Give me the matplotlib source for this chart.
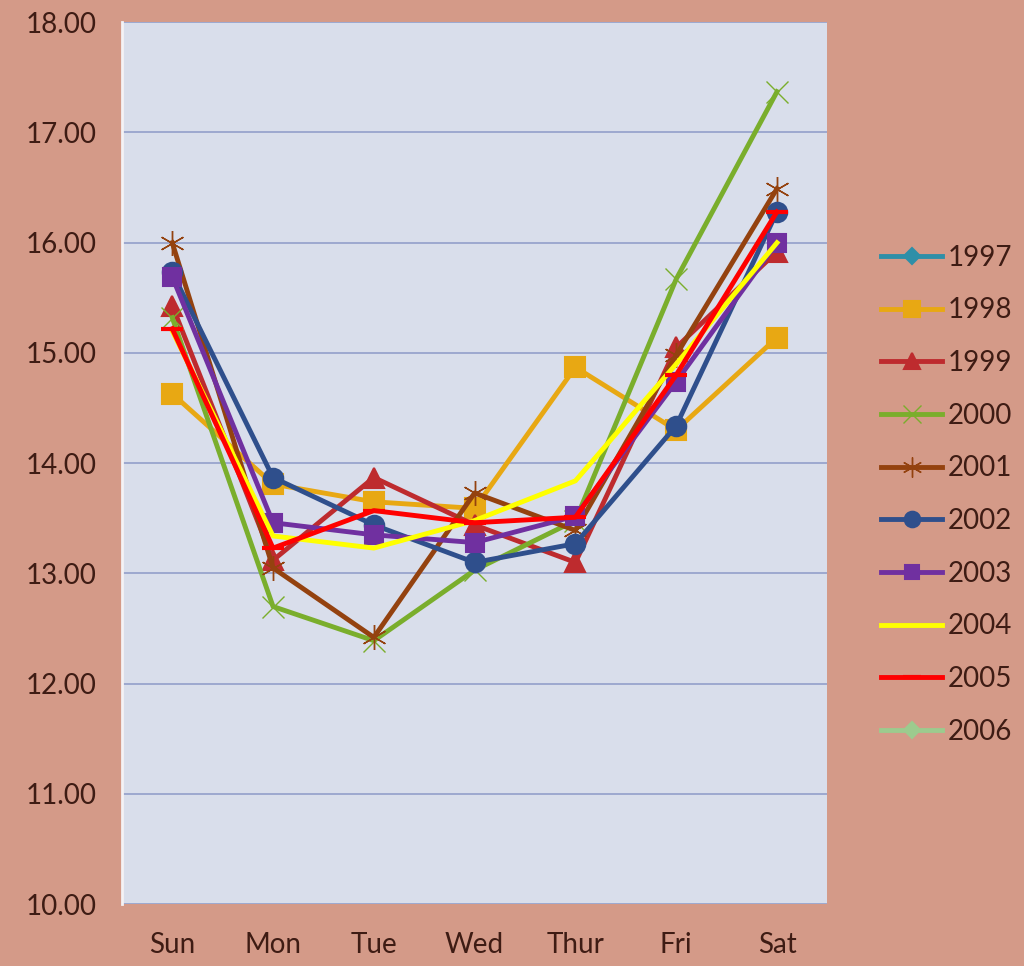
import numpy as np
import matplotlib.pyplot as plt

plt.rcParams['font.family'] = ['Lato', 'DejaVu Sans']

days = ['Sun', 'Mon', 'Tue', 'Wed', 'Thur', 'Fri', 'Sat']
years = ['1997', '1998', '1999', '2000', '2001', '2002', '2003', '2004', '2005', '2006']

nan = np.nan
v1997 = [nan, nan, nan, nan, nan, nan, nan]
v1998 = [14.63, 13.81, 13.65, 13.59, 14.87, 14.30, 15.14]
v1999 = [15.43, 13.12, 13.87, 13.44, 13.10, 15.05, 15.92]
v2000 = [15.32, 12.70, 12.39, 13.03, 13.48, 15.67, 17.37]
v2001 = [16.00, 13.05, 12.42, 13.73, 13.39, 14.98, 16.49]
v2002 = [15.73, 13.87, 13.44, 13.10, 13.27, 14.34, 16.28]
v2003 = [15.69, 13.46, 13.35, 13.28, 13.52, 14.74, 16.00]
v2004 = [15.20, 13.34, 13.23, 13.48, 13.84, 14.90, 16.00]
v2005 = [15.22, 13.23, 13.57, 13.46, 13.51, 14.80, 16.28]
v2006 = [nan, nan, nan, nan, nan, nan, nan]

series = [v1997, v1998, v1999, v2000, v2001, v2002, v2003, v2004, v2005, v2006]
colors = ['#2E8FA8', '#E8A813', '#BE2B2E', '#7AAE2C', '#94420F',
          '#2F4F8C', '#7030A0', '#FFFF00', '#FF0000', '#9CCB8E']
markers = ['D', 's', '^', 'x', (6, 2, 0), 'o', 's', None, '_', 'D']
msizes = [10, 14, 14, 16, 18, 14, 13, 0, 16, 10]
mews = [1.5, 1.5, 1.5, 1.0, 1.0, 1.5, 1.5, 1.5, 3.0, 1.5]

bg = '#D49A88'
txt = '#3E1C14'

fig = plt.figure(figsize=(10.24, 9.66), dpi=100, facecolor=bg)
ax = fig.add_axes([0.119, 0.064, 0.689, 0.913])
ax.set_facecolor('#D9DEEB')

x = np.arange(len(days))
for yr, vals, c, m, ms, mw in zip(years, series, colors, markers, msizes, mews):
    ax.plot(x, vals, color=c, lw=3.5, marker=m, markersize=ms,
            markeredgecolor=c, markeredgewidth=mw, label=yr)

ax.set_xlim(-0.5, 6.5)
ax.set_ylim(10, 18)
ax.set_yticks(np.arange(10, 18.5, 1))
ax.set_yticklabels(['%.2f' % t for t in np.arange(10, 18.5, 1)])
ax.set_xticks(x)
ax.set_xticklabels(days)
ax.yaxis.grid(True, color='#98A4CC', lw=1.3)
ax.set_axisbelow(True)
for s in ['top', 'right', 'bottom']:
    ax.spines[s].set_visible(False)
ax.spines['left'].set_color('#F4F2F5')
ax.spines['left'].set_linewidth(2)
ax.tick_params(length=0, labelsize=20, labelcolor=txt, pad=20)
ax.tick_params(axis='y', pad=18)

leg = fig.legend(loc='center left', bbox_to_anchor=(0.836, 0.488), frameon=False,
                 fontsize=20, labelcolor=txt, labelspacing=0.96,
                 handlelength=2.2, handletextpad=0.2, markerscale=0.8)

fig.savefig('out.png', dpi=100, facecolor=bg)
